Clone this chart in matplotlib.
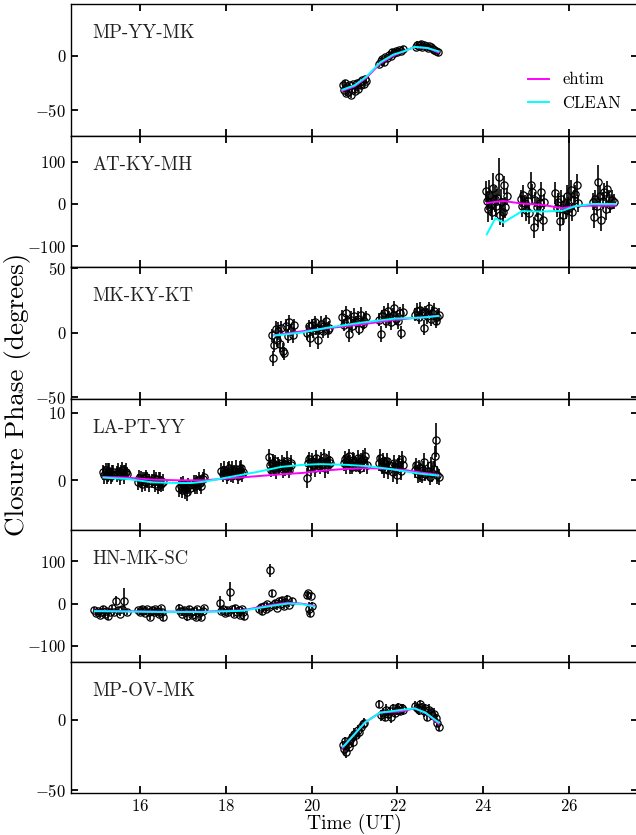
import matplotlib
matplotlib.use("Agg")
import matplotlib.pyplot as plt

# ── Fonts: Computer Modern look ──────────────────────────────
plt.rcParams["font.family"] = "serif"
plt.rcParams["font.serif"] = ["cmr10"]
plt.rcParams["mathtext.fontset"] = "cm"
plt.rcParams["axes.formatter.use_mathtext"] = True
plt.rcParams["axes.unicode_minus"] = True

# ── Data ─────────────────────────────────────────────────────
TRIANGLES = ["MP-YY-MK", "AT-KY-MH", "MK-KY-KT", "LA-PT-YY", "HN-MK-SC", "MP-OV-MK"]

# MP-YY-MK
T1 = [20.72, 20.75, 20.77, 20.80, 20.82, 20.85, 20.88, 20.91, 20.94, 20.97,
      21.00, 21.03, 21.06, 21.09, 21.12, 21.15, 21.18, 21.21, 21.24, 21.27,
      21.58, 21.61, 21.64, 21.68, 21.72, 21.76, 21.80, 21.84, 21.88, 21.92,
      21.96, 22.00, 22.04, 22.08, 22.12,
      22.42, 22.46, 22.50, 22.54, 22.58, 22.62, 22.66, 22.70, 22.74, 22.78,
      22.82, 22.86, 22.90, 22.94]
P1 = [-27, -31, -25, -34, -29, -33, -27, -36, -30, -26,
      -32, -28, -25, -30, -24, -27, -22, -26, -21, -23,
      -8, -5, -3, -6, -1, -2, 1, 0, 3, 2,
      4, 3, 5, 4, 6,
      8, 10, 9, 11, 8, 10, 9, 7, 9, 8,
      6, 5, 4, 3]
E1 = [3, 2, 3, 3, 2, 3, 2, 3, 3, 2,
      3, 2, 3, 3, 2, 3, 2, 3, 2, 3,
      2, 3, 2, 3, 2, 2, 3, 2, 3, 2,
      2, 3, 2, 2, 3,
      2, 3, 2, 2, 3, 2, 2, 3, 2, 2,
      3, 2, 2, 3]
MT1 = [20.72, 21.0, 21.28, 21.6, 21.9, 22.15, 22.4, 22.7, 22.95]
EHT1 = [-32, -28, -20, -7, 0, 4, 8, 7, 3]
CLN1 = [-31, -27, -19, -6, 1, 4, 8, 7, 4]

# AT-KY-MH
T2 = [24.05, 24.08, 24.11, 24.14, 24.17, 24.20, 24.23, 24.26, 24.29, 24.32,
      24.36, 24.39, 24.42, 24.45, 24.48, 24.51, 24.54,
      24.87, 24.90, 24.93, 24.97, 25.00, 25.03, 25.07, 25.10, 25.13, 25.17,
      25.20, 25.24, 25.27, 25.31, 25.35, 25.38, 25.42,
      25.68, 25.71, 25.74, 25.78, 25.81, 25.85, 25.88, 25.92, 25.95, 25.98,
      26.00, 26.04, 26.07, 26.11, 26.14, 26.18, 26.21,
      26.55, 26.58, 26.61, 26.65, 26.68, 26.71, 26.75, 26.78, 26.82, 26.85,
      26.89, 26.92, 26.96, 27.00, 27.04]
P2 = [30, 8, -12, 22, 0, -18, 38, 12, -5, 15,
      65, -25, 5, -20, 45, -8, 18,
      12, -5, 22, 3, -15, 6, -22, 45, 28, -55,
      10, -8, -30, 2, 29, -38, 5,
      26, -10, 5, -40, 12, -25, 0, -15, 20, -5,
      -10, 32, -20, 10, 24, 45, 2,
      5, -31, 12, -5, 52, 20, -38, 8, 28, -12,
      35, 15, -2, 10, 5]
E2 = [25, 22, 30, 35, 25, 20, 35, 30, 25, 20,
      45, 25, 30, 35, 22, 25, 20,
      20, 25, 22, 18, 25, 20, 25, 30, 20, 25,
      18, 22, 25, 20, 22, 25, 18,
      25, 20, 22, 25, 20, 25, 22, 20, 25, 22,
      220, 25, 20, 22, 20, 25, 20,
      20, 25, 22, 20, 40, 22, 25, 20, 22, 25,
      20, 18, 20, 22, 18]
MT2 = [24.08, 24.28, 24.47, 24.90, 25.37, 25.84, 26.15, 26.54, 27.08]
EHT2 = [2, 5, 7, 1, -2, -10, -5, -4, -4]
CLN2 = [-72, -34, -44, -17, -18, -16, -5, 0, 0]

# MK-KY-KT
T3 = [19.07, 19.10, 19.13, 19.16, 19.19, 19.22, 19.26, 19.29, 19.33, 19.36,
      19.40, 19.44, 19.48, 19.52, 19.56, 19.60,
      19.89, 19.93, 19.96, 20.00, 20.04, 20.07, 20.11, 20.15, 20.18, 20.22,
      20.26, 20.29, 20.33, 20.37, 20.41,
      20.71, 20.75, 20.79, 20.83, 20.87, 20.91, 20.95, 20.99, 21.03, 21.07,
      21.11, 21.15, 21.19, 21.23, 21.27,
      21.57, 21.61, 21.65, 21.69, 21.73, 21.77, 21.81, 21.85, 21.89, 21.93,
      21.97, 22.01, 22.05, 22.09, 22.13,
      22.41, 22.45, 22.49, 22.53, 22.57, 22.61, 22.65, 22.69, 22.73, 22.77,
      22.81, 22.85, 22.89, 22.93, 22.96]
P3 = [-2, -20, -10, 3, -6, 1, -9, 4, -14, -16,
      5, -3, 8, 2, -2, 6,
      0, 5, -4, 6, 2, 8, 4, -6, 3, 7,
      1, 5, 9, 2, 4,
      12, 6, 15, 9, -1, 10, 5, 13, 8, 11,
      3, 14, 7, 9, 12,
      10, -1, 13, 15, 9, 17, 12, 8, 14, 19,
      11, 9, 15, 0, 16,
      14, 17, 12, 18, 15, 4, 16, 13, 19, 11,
      15, 17, 9, 12, 14]
E3 = [5, 6, 5, 6, 5, 7, 6, 5, 6, 5,
      6, 5, 6, 5, 6, 5,
      6, 5, 7, 5, 6, 5, 6, 7, 5, 6,
      5, 6, 5, 6, 5,
      6, 5, 6, 5, 6, 7, 5, 6, 5, 6,
      5, 6, 5, 6, 5,
      5, 6, 5, 6, 5, 6, 5, 6, 5, 6,
      5, 6, 5, 5, 6,
      5, 6, 5, 6, 5, 6, 5, 6, 5, 6,
      5, 6, 5, 6, 5]
MT3 = [19.13, 19.76, 20.39, 21.16, 21.94, 22.57, 22.95]
EHT3 = [-2, 1, 3.5, 6.4, 10, 12, 13]
CLN3 = [-2.3, 0, 4, 7.8, 11, 11.7, 13]

# LA-PT-YY
T4 = [15.14, 15.17, 15.20, 15.23, 15.26, 15.29, 15.32, 15.35, 15.38,
      15.47, 15.50, 15.53, 15.56, 15.59, 15.62, 15.65, 15.68, 15.71,
      15.96, 15.99, 16.02, 16.05, 16.08, 16.11, 16.14, 16.17, 16.20,
      16.29, 16.32, 16.35, 16.38, 16.41, 16.44, 16.47, 16.50, 16.53,
      16.92, 16.95, 16.98, 17.01, 17.04, 17.07, 17.10, 17.13, 17.16,
      17.25, 17.28, 17.31, 17.34, 17.37, 17.40, 17.43, 17.46, 17.49,
      17.90, 17.93, 17.96, 17.99, 18.02, 18.05, 18.08, 18.11, 18.14,
      18.17, 18.20, 18.23, 18.26, 18.29, 18.32, 18.35, 18.38, 18.41,
      19.00, 19.03, 19.06, 19.09, 19.12, 19.15, 19.18, 19.21, 19.24,
      19.30, 19.33, 19.36, 19.39, 19.42, 19.45, 19.48, 19.51, 19.53,
      19.89, 19.92, 19.95, 19.98, 20.01, 20.04, 20.07, 20.10, 20.13,
      20.19, 20.22, 20.25, 20.28, 20.31, 20.34, 20.37, 20.40, 20.42,
      20.75, 20.78, 20.81, 20.84, 20.87, 20.90, 20.93, 20.96, 20.99,
      21.04, 21.07, 21.10, 21.13, 21.16, 21.19, 21.22, 21.25, 21.28,
      21.57, 21.60, 21.63, 21.66, 21.69, 21.72, 21.75, 21.78, 21.81,
      21.89, 21.92, 21.95, 21.98, 22.01, 22.04, 22.07, 22.10, 22.13,
      22.41, 22.44, 22.47, 22.50, 22.53, 22.56, 22.59, 22.62, 22.65,
      22.72, 22.75, 22.78, 22.81, 22.84, 22.87, 22.90, 22.93, 22.96]
P4 = [1.2, 0.8, 1.5, 0.6, 1.1, 1.4, 0.7, 1.0, 1.3,
      0.9, 1.4, 0.6, 1.2, 1.5, 0.8, 1.1, 1.3, 1.0,
      -0.3, 0.4, 0.1, -0.6, 0.3, -0.2, 0.5, 0.0, -0.4,
      -0.1, 0.3, -0.5, 0.2, -0.8, -0.2, 0.1, -0.6, -0.3,
      -1.2, -0.8, -1.5, -0.6, -1.3, -1.0, -1.7, -0.9, -1.1,
      -0.5, -0.9, -0.2, -0.7, 0.1, -0.4, -0.8, 0.2, 0.5,
      1.4, 0.9, 1.6, 1.1, 0.7, 1.3, 1.8, 1.0, 1.5,
      0.8, 1.2, 1.7, 1.1, 0.6, 1.4, 1.9, 1.0, 1.3,
      3.4, 2.2, 1.6, 2.5, 1.9, 2.8, 1.5, 2.3, 2.0,
      2.6, 1.7, 2.4, 1.8, 2.9, 2.1, 1.5, 2.5, 2.2,
      0.4, 2.5, 3.1, 2.0, 2.8, 2.3, 1.9, 3.3, 2.6,
      2.1, 2.9, 2.4, 3.5, 1.8, 2.7, 2.2, 3.0, 2.5,
      2.6, 3.2, 2.2, 2.9, 3.6, 2.4, 2.0, 3.0, 2.7,
      2.3, 3.3, 2.5, 1.9, 2.8, 3.1, 2.4, 3.6, 2.2,
      2.6, 3.3, 2.0, 2.8, 1.7, 2.4, 2.9, 1.5, 2.2,
      1.2, 2.5, 1.8, 0.8, 2.1, 2.7, 1.4, 3.1, 2.3,
      1.5, 2.2, 0.9, 1.8, 1.2, 0.6, 1.6, 2.7, 1.0,
      1.4, 0.5, 2.3, 1.1, 1.7, 3.6, 6.0, 0.8, 0.5]
E4 = [1.1, 1.3, 1.0, 1.2, 1.4, 1.1, 1.2, 1.3, 1.0,
      1.2, 1.1, 1.3, 1.0, 1.2, 1.4, 1.1, 1.2, 1.0,
      1.2, 1.1, 1.3, 1.2, 1.0, 1.4, 1.1, 1.2, 1.3,
      1.1, 1.2, 1.3, 1.0, 1.2, 1.4, 1.1, 1.2, 1.3,
      1.2, 1.3, 1.1, 1.2, 1.4, 1.0, 1.3, 1.2, 1.1,
      1.3, 1.2, 1.0, 1.4, 1.1, 1.2, 1.3, 1.1, 1.2,
      1.1, 1.2, 1.3, 1.0, 1.2, 1.4, 1.1, 1.2, 1.3,
      1.2, 1.1, 1.3, 1.0, 1.2, 1.4, 1.1, 1.2, 1.0,
      1.3, 1.2, 1.1, 1.4, 1.2, 1.0, 1.3, 1.2, 1.1,
      1.2, 1.3, 1.1, 1.2, 1.4, 1.0, 1.2, 1.3, 1.1,
      1.5, 1.2, 1.1, 1.3, 1.2, 1.0, 1.4, 1.2, 1.1,
      1.2, 1.3, 1.1, 1.2, 1.4, 1.0, 1.2, 1.3, 1.1,
      1.2, 1.1, 1.3, 1.2, 1.0, 1.4, 1.1, 1.2, 1.3,
      1.1, 1.2, 1.3, 1.0, 1.2, 1.4, 1.1, 1.2, 1.3,
      1.2, 1.3, 1.1, 1.2, 1.4, 1.0, 1.2, 1.3, 1.1,
      1.5, 1.2, 1.1, 1.3, 1.2, 1.0, 1.4, 1.2, 1.1,
      1.2, 1.1, 1.3, 1.2, 1.4, 1.0, 1.2, 1.3, 1.1,
      1.3, 1.2, 1.1, 1.4, 1.2, 1.5, 2.5, 1.3, 1.2]
MT4 = [15.15, 15.7, 16.3, 16.9, 17.2, 17.5, 18.1, 18.7, 19.3, 19.8,
       20.2, 20.8, 21.3, 21.8, 22.2, 22.5, 22.95]
EHT4 = [0.5, 0.4, 0.1, 0.0, 0.0, 0.0, 0.3, 0.6, 0.9, 1.1,
        1.4, 1.7, 1.8, 1.7, 1.5, 1.2, 0.8]
CLN4 = [0.4, 0.2, -0.3, -0.4, -0.4, -0.2, 0.5, 1.2, 2.0, 2.3,
        2.4, 2.3, 2.1, 1.7, 1.3, 1.0, 0.7]

# HN-MK-SC
T5 = [14.94, 14.98, 15.02, 15.06, 15.10, 15.14, 15.18, 15.22, 15.26, 15.30,
      15.35, 15.40, 15.44, 15.49, 15.54, 15.59, 15.64, 15.70,
      15.96, 16.00, 16.04, 16.08, 16.12, 16.16, 16.20, 16.24, 16.28, 16.32,
      16.36, 16.40, 16.44, 16.48, 16.52, 16.54,
      16.90, 16.94, 16.98, 17.02, 17.06, 17.10, 17.14, 17.18, 17.22, 17.26,
      17.30, 17.34, 17.38, 17.42, 17.46, 17.50,
      17.86, 17.90, 17.94, 17.98, 18.02, 18.06, 18.10, 18.14, 18.18, 18.22,
      18.26, 18.30, 18.34, 18.37, 18.40, 18.42,
      18.77, 18.81, 18.85, 18.89, 18.93, 18.97, 19.01, 19.03, 19.07, 19.11,
      19.15, 19.19, 19.23, 19.27, 19.31, 19.35, 19.39, 19.43, 19.48, 19.55,
      19.89, 19.91, 19.93, 19.96, 19.98, 20.02]
P5 = [-15, -22, -18, -27, -20, -13, -25, -17, -30, -19,
      -10, -21, 7, -16, -24, -12, 5, -20,
      -16, -20, -12, -18, -22, -14, -19, -31, -15, -21,
      -13, -17, -24, -11, -19, -33,
      -10, -18, -24, -15, -21, -30, -13, -19, -26, -17,
      -31, -14, -22, -32, -18, -11,
      2, -18, -12, -22, -15, -20, 28, -14, -24, -11,
      -19, -16, -26, -13, -21, -30,
      -14, -8, -18, -5, -12, -2, -9, 79, 24, -4,
      2, -10, 5, -1, 8, -6, 3, 12, -3, 7,
      20, 24, -12, -23, 18, -5]
E5 = [6, 7, 6, 8, 6, 7, 6, 7, 8, 6,
      7, 6, 10, 7, 6, 7, 31, 6,
      6, 7, 6, 8, 6, 7, 6, 9, 6, 7,
      6, 7, 8, 6, 7, 9,
      10, 7, 6, 8, 6, 12, 7, 6, 8, 6,
      9, 7, 6, 8, 7, 6,
      15, 7, 6, 8, 6, 7, 22, 6, 8, 7,
      6, 7, 8, 6, 7, 8,
      7, 6, 8, 6, 7, 6, 7, 15, 8, 6,
      7, 6, 7, 6, 7, 6, 7, 8, 6, 7,
      8, 7, 15, 9, 7, 8]
MT5 = [14.95, 15.7, 16.5, 17.5, 18.4, 18.8, 19.1, 19.45, 19.75, 20.05]
EHT5 = [-17, -18, -19, -19, -16, -8, -3, 2, 0, -5]
CLN5 = [-18, -19, -20, -20, -17, -10, -5, 0, -1, -7]

# MP-OV-MK
T6 = [20.72, 20.75, 20.78, 20.81, 20.84, 20.87, 20.90, 20.93, 20.96, 20.99,
      21.03, 21.07, 21.11, 21.15, 21.19, 21.23,
      21.58, 21.62, 21.66, 21.70, 21.74, 21.78, 21.82, 21.86, 21.90, 21.94,
      21.98, 22.02, 22.06, 22.10, 22.13,
      22.41, 22.45, 22.49, 22.53, 22.57, 22.61, 22.65, 22.69, 22.73, 22.77,
      22.81, 22.85, 22.89, 22.93, 22.96]
P6 = [-18, -21, -15, -23, -17, -19, -14, -12, -16, -10,
      -11, -7, -9, -5, -3, -2,
      11, 3, 5, 2, 7, 4, 6, 2, 8, 5,
      7, 9, 6, 8, 7,
      10, 8, 7, 11, 9, 6, 8, 2, 7, 5,
      3, 4, 1, -2, -5]
E6 = [3, 4, 3, 4, 3, 3, 4, 3, 3, 4,
      3, 3, 4, 3, 3, 3,
      3, 4, 3, 3, 4, 3, 3, 4, 3, 3,
      4, 3, 3, 3, 4,
      3, 3, 4, 3, 3, 4, 3, 3, 4, 3,
      3, 4, 3, 3, 3]
MT6 = [20.72, 20.77, 21.24, 21.59, 22.1, 22.4, 22.65, 22.96]
EHT6 = [-20, -18, -2, 5, 6, 8, 5, -3]
CLN6 = [-19, -18, -2, 5, 7, 8, 5, -2]

YLIMS = [(-73, 47), (-150, 162), (-51.5, 51), (-7.4, 12.1), (-138, 174), (-52, 41)]
YTICKS = [[-50, 0], [-100, 0, 100], [-50, 0, 50], [0, 10], [-100, 0, 100], [-50, 0]]
XTICKS = [16, 18, 20, 22, 24, 26]

panels = [(T1, P1, E1, MT1, EHT1, CLN1),
          (T2, P2, E2, MT2, EHT2, CLN2),
          (T3, P3, E3, MT3, EHT3, CLN3),
          (T4, P4, E4, MT4, EHT4, CLN4),
          (T5, P5, E5, MT5, EHT5, CLN5),
          (T6, P6, E6, MT6, EHT6, CLN6)]

# ── Plot ─────────────────────────────────────────────────────
fig, axes = plt.subplots(6, 1, figsize=(6.36, 8.35), dpi=100, sharex=True)
# right edge sits just past the image, as in the cropped original
fig.subplots_adjust(left=0.112, right=1.003, top=0.995, bottom=0.050, hspace=0)

for i, ax in enumerate(axes):
    t, p, e, mt, eht, cln = panels[i]
    ax.errorbar(t, p, yerr=e, fmt="o", mfc="none", mec="k", ecolor="k",
                ms=5.2, mew=0.9, elinewidth=1.2, capsize=0, zorder=2)
    ax.plot(mt, eht, color="#ff00ff", lw=1.4, label="ehtim", zorder=3)
    ax.plot(mt, cln, color="#00ffff", lw=1.4, label="CLEAN", zorder=3)

    ax.set_xlim(14.4, 27.6)
    ax.set_ylim(*YLIMS[i])
    ax.set_yticks(YTICKS[i])
    ax.set_xticks(XTICKS)
    ax.tick_params(direction="in", top=True, right=True, length=5,
                   width=1.3, labelsize=12)
    for s in ax.spines.values():
        s.set_linewidth(1.0)
    ax.text(0.037, 0.78, TRIANGLES[i], transform=ax.transAxes,
            fontsize=13.5, va="center", ha="left", color="#222222")

axes[0].legend(loc="lower right", bbox_to_anchor=(1.0, 0.06), frameon=False,
               fontsize=12, handlelength=1.25, borderaxespad=0.6)

axes[-1].set_xlabel("Time (UT)", fontsize=14, labelpad=0)
fig.text(0.027, 0.528, "Closure Phase (degrees)", rotation=90,
         fontsize=19.5, va="center", ha="center")

fig.savefig("out.png", dpi=100)
